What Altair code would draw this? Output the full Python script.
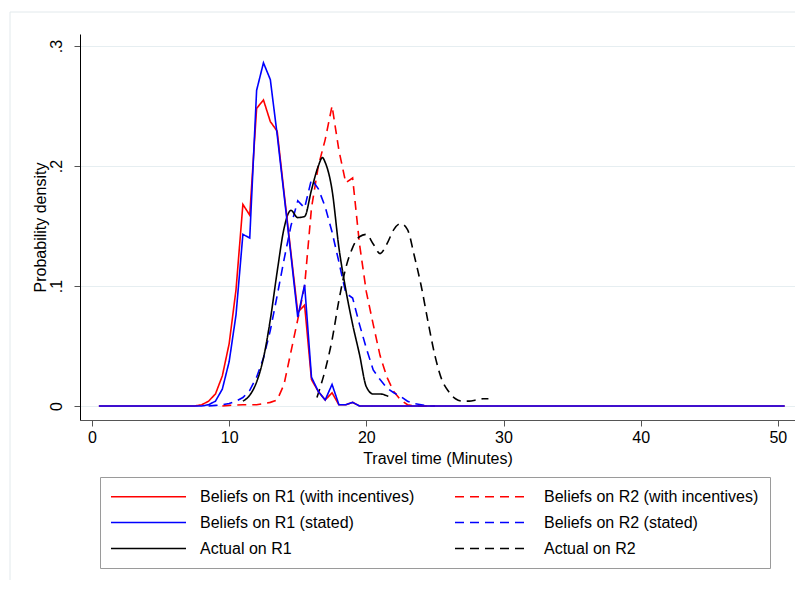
import altair as alt
import pandas as pd

SERIES = ["Beliefs on R1 (with incentives)", "Beliefs on R1 (stated)", "Actual on R1",
          "Beliefs on R2 (with incentives)", "Beliefs on R2 (stated)", "Actual on R2"]
COLORS = ["#ff0000", "#0000ff", "#000000", "#ff0000", "#0000ff", "#000000"]
DASHES = [[1, 0], [1, 0], [1, 0], [9, 6], [9, 6], [9, 6]]

# Beliefs on R1 (with incentives)
r1_inc_min = [0.5, 7.5, 8.0, 8.5, 9.0, 9.5, 10.0, 10.5, 11.0, 11.5, 12.0, 12.5, 13.0, 13.5,
              14.0, 14.5, 15.0, 15.5, 16.0, 16.5, 17.0, 17.5, 18.0, 18.5, 19.0, 19.5, 50.5]
r1_inc_val = [0, 0, 0.001, 0.004, 0.010, 0.025, 0.052, 0.097, 0.168, 0.159, 0.248, 0.255, 0.237, 0.229,
              0.178, 0.128, 0.078, 0.084, 0.022, 0.012, 0.005, 0.011, 0.001, 0.001, 0.003, 0, 0]

# Beliefs on R1 (stated)
r1_st_min = [0.5, 8.0, 8.5, 9.0, 9.5, 10.0, 10.5, 11.0, 11.5, 12.0, 12.5, 13.0, 13.5,
             14.0, 14.5, 15.0, 15.5, 16.0, 16.5, 17.0, 17.5, 18.0, 18.5, 19.0, 19.5, 50.5]
r1_st_val = [0, 0, 0.001, 0.004, 0.014, 0.037, 0.076, 0.143, 0.140, 0.263, 0.286, 0.272, 0.226,
             0.176, 0.126, 0.074, 0.101, 0.024, 0.012, 0.005, 0.018, 0.001, 0.001, 0.003, 0, 0]

# Beliefs on R2 (with incentives)
r2_inc_min = [9.5, 10.0, 11.0, 12.0, 12.5, 13.0, 13.5, 14.0, 14.5, 15.0, 15.5, 16.0, 16.5, 17.0,
              17.5, 18.0, 18.5, 19.0, 19.5, 20.0, 20.5, 21.0, 21.5, 22.0, 22.5, 23.0, 23.5, 25.0]
r2_inc_val = [0, 0.0005, 0.001, 0.001, 0.002, 0.003, 0.005, 0.018, 0.045, 0.072, 0.100, 0.165, 0.200, 0.222,
              0.250, 0.213, 0.186, 0.190, 0.135, 0.095, 0.068, 0.042, 0.024, 0.012, 0.005, 0.001, 0, 0]

# Beliefs on R2 (stated)
r2_st_min = [8.5, 9.0, 9.5, 10.0, 10.5, 11.0, 11.5, 12.0, 12.5, 13.0, 13.5, 14.0, 14.5, 15.0,
             15.5, 16.0, 16.5, 17.0, 17.5, 18.0, 18.5, 19.0, 19.5, 20.0, 20.5, 21.0, 21.5,
             22.0, 22.5, 23.0, 23.5, 24.0, 24.5, 25.0]
r2_st_val = [0, 0.0005, 0.001, 0.002, 0.004, 0.007, 0.013, 0.024, 0.040, 0.063, 0.092, 0.122, 0.150, 0.171,
             0.165, 0.189, 0.181, 0.166, 0.145, 0.120, 0.094, 0.090, 0.068, 0.048, 0.030, 0.022, 0.015,
             0.011, 0.008, 0.004, 0.002, 0.001, 0, 0]

# Actual on R1
act1_min = [11.0, 11.5, 12.0, 12.5, 13.0, 13.5, 14.0, 14.5, 15.0, 15.5, 16.0, 16.5, 16.8, 17.0,
            17.5, 18.0, 18.5, 19.0, 19.5, 20.0, 20.5, 21.0, 21.6]
act1_val = [0.004, 0.009, 0.020, 0.040, 0.072, 0.112, 0.148, 0.163, 0.157, 0.158, 0.180, 0.200, 0.207, 0.203,
            0.180, 0.132, 0.097, 0.068, 0.043, 0.016, 0.010, 0.010, 0.008]

# Actual on R2
act2_min = [16.4, 17.0, 17.5, 18.0, 18.5, 19.0, 19.5, 20.0, 20.5, 21.0, 21.5, 22.0, 22.5, 23.0,
            23.5, 24.0, 24.5, 25.0, 25.5, 26.0, 26.5, 27.0, 27.5, 28.0, 28.5, 28.9]
act2_val = [0.007, 0.030, 0.055, 0.088, 0.115, 0.132, 0.141, 0.143, 0.135, 0.127, 0.135, 0.147, 0.152, 0.147,
            0.125, 0.100, 0.070, 0.042, 0.022, 0.012, 0.006, 0.004, 0.004, 0.005, 0.006, 0.006]


def frame(name, mins, vals):
    return pd.DataFrame({"series": name, "minute": mins, "density": vals})


FONT = "Liberation Sans"
FS = 16

x_enc = alt.X("minute:Q",
              scale=alt.Scale(domain=[-0.875, 51.25], nice=False, zero=False),
              axis=alt.Axis(values=[0, 10, 20, 30, 40, 50], title="Travel time (Minutes)",
                            grid=False, tickSize=6, labelPadding=3, titlePadding=5,
                            domainColor="#555555", tickColor="#555555", labelFlush=False))
y_enc = alt.Y("density:Q",
              scale=alt.Scale(domain=[-0.0117, 0.31], nice=False, zero=False),
              axis=alt.Axis(values=[0, 0.1, 0.2, 0.3], title="Probability density",
                            labelExpr="datum.value == 0 ? '0' : replace(format(datum.value, '.1f'), '0.', '.')",
                            labelAngle=270, labelAlign="center", labelBaseline="bottom",
                            labelPadding=10, titlePadding=0, tickSize=6,
                            grid=True, gridColor="#e6eef1", gridWidth=1.2,
                            domainColor="#000000", tickColor="#555555"))

legend = alt.Legend(title=None, orient="none", legendX=20, legendY=443, columns=2,
                    symbolType="M-1.133,0H8.867", symbolSize=225, symbolStrokeWidth=1.6,
                    symbolFillColor="transparent",
                    labelFont=FONT, labelFontSize=FS, labelColor="#000000", labelOffset=72,
                    labelLimit=400, columnPadding=36, rowPadding=9, padding=11,
                    strokeColor="#9a9a9a", fillColor="#ffffff")

color_enc = alt.Color("series:N", scale=alt.Scale(domain=SERIES, range=COLORS), legend=legend)
dash_enc = alt.StrokeDash("series:N", scale=alt.Scale(domain=SERIES, range=DASHES), legend=legend)


def layer(df, interp="linear"):
    return alt.Chart(df).mark_line(strokeWidth=1.6, interpolate=interp, clip=True).encode(
        x=x_enc, y=y_enc, color=color_enc, strokeDash=dash_enc, order=alt.Order("minute:Q"))


# faint outer graph-region border (decoration)
border_top = alt.Chart(pd.DataFrame({"k": [0]})).mark_rule(color="#e2e9ec", strokeWidth=1).encode(
    x=alt.value(-70), x2=alt.value(715), y=alt.value(-22))
border_left = alt.Chart(pd.DataFrame({"k": [0]})).mark_rule(color="#e2e9ec", strokeWidth=1).encode(
    x=alt.value(-70), y=alt.value(-22), y2=alt.value(546))

chart = alt.layer(
    border_top,
    border_left,
    layer(frame(SERIES[3], r2_inc_min, r2_inc_val)),
    layer(frame(SERIES[4], r2_st_min, r2_st_val)),
    layer(frame(SERIES[2], act1_min, act1_val), "monotone"),
    layer(frame(SERIES[5], act2_min, act2_val), "monotone"),
    layer(frame(SERIES[0], r1_inc_min, r1_inc_val)),
    layer(frame(SERIES[1], r1_st_min, r1_st_val)),
).properties(
    width=715, height=386,
    autosize=alt.AutoSizeParams(type="none"),
    padding={"left": 72, "top": 26, "right": 0, "bottom": 160},
).configure(
    font=FONT,
).configure_axis(
    labelFont=FONT, titleFont=FONT, labelFontSize=FS, titleFontSize=FS,
    labelColor="#000000", titleColor="#000000", titleFontWeight="normal",
).configure_view(
    stroke=None,
)

chart.save("out.html", embed_options={"renderer": "svg", "actions": False})
